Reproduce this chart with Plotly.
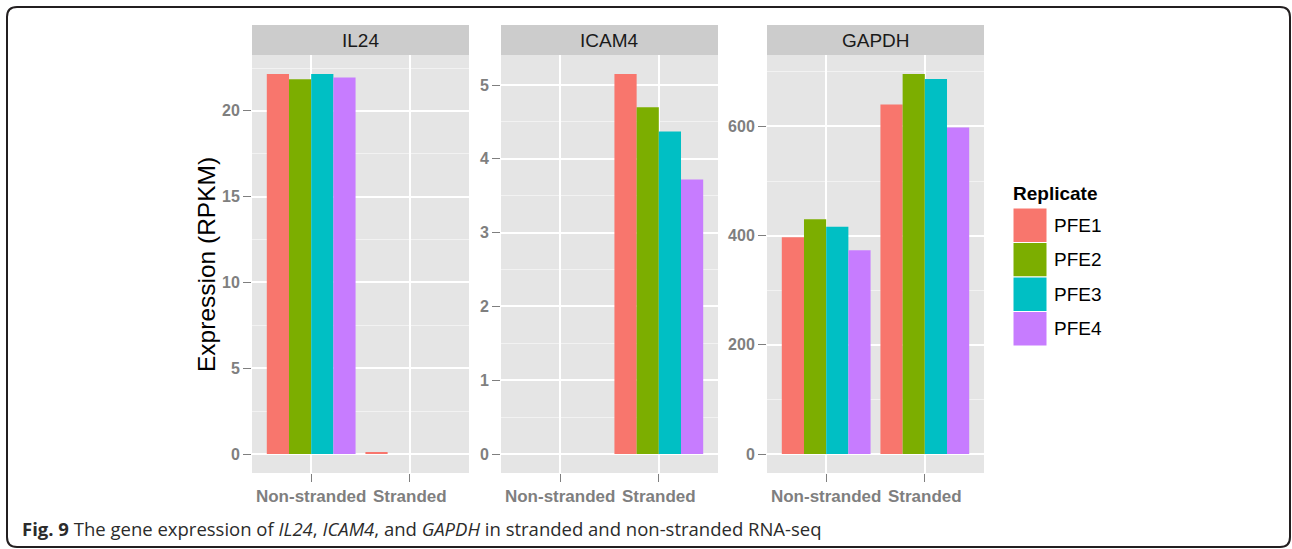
import plotly.graph_objects as go

# ---------------- data ----------------
genes = ["IL24", "ICAM4", "GAPDH"]
conditions = ["Non-stranded", "Stranded"]
replicates = ["PFE1", "PFE2", "PFE3", "PFE4"]
colors = ["#F8766D", "#7CAE00", "#00BFC4", "#C77CFF"]

# values[replicate] = [Non-stranded, Stranded]
il24 = {"PFE1": [22.15, 0.1], "PFE2": [21.85, 0.0], "PFE3": [22.15, 0.0], "PFE4": [21.95, 0.0]}
icam4 = {"PFE1": [0.0, 5.15], "PFE2": [0.0, 4.70], "PFE3": [0.0, 4.37], "PFE4": [0.0, 3.72]}
gapdh = {"PFE1": [397, 640], "PFE2": [430, 696], "PFE3": [416, 687], "PFE4": [373, 598]}
gene_values = [il24, icam4, gapdh]
y_dticks = [5, 1, 200]

y_title = "Expression (RPKM)"
legend_title = "Replicate"
caption = ("<b>Fig. 9</b> The gene expression of <i>IL24</i>, <i>ICAM4</i>, and "
           "<i>GAPDH</i> in stranded and non-stranded RNA-seq")

# ---------------- layout helpers (pixels -> paper) ----------------
W, H = 1292, 549
def px(x):
    return x / W
def py(y):
    return 1 - y / H

panel_x = [(252, 469), (501, 718), (767, 984)]
panel_top, panel_bottom = 55, 473
strip_top = 25

fig = go.Figure()
shapes = []
annotations = []

axis_font = dict(family="Liberation Sans, Arial, sans-serif", color="#7f7f7f", size=16, weight="bold")

for i, (gene, vals) in enumerate(zip(genes, gene_values)):
    n = "" if i == 0 else str(i + 1)
    for r, c in zip(replicates, colors):
        fig.add_trace(go.Bar(
            x=conditions, y=vals[r], name=r, marker=dict(color=c, line=dict(width=0)),
            xaxis="x" + n, yaxis="y" + n, showlegend=False, offsetgroup=r,
        ))
    allv = [v for r in replicates for v in vals[r]]
    lo, hi = min(0, min(allv)), max(allv)
    pad = 0.05 * (hi - lo)
    x0, x1 = panel_x[i]
    fig.layout["xaxis" + n] = dict(
        domain=[px(x0), px(x1)], anchor="y" + n, type="category",
        categoryorder="array", categoryarray=conditions, range=[-0.6, 1.6],
        showgrid=True, gridcolor="white", gridwidth=2, zeroline=False, showline=False,
        ticks="outside", ticklen=8, tickwidth=1, tickcolor="#7f7f7f",
        tickfont=dict(axis_font, size=17), fixedrange=True,
    )
    fig.layout["yaxis" + n] = dict(
        domain=[py(panel_bottom), py(panel_top)], anchor="x" + n,
        range=[lo - pad, hi + pad], dtick=y_dticks[i], tick0=0,
        showgrid=True, gridcolor="white", gridwidth=2, zeroline=False, showline=False,
        ticks="outside", ticklen=8, tickwidth=1, tickcolor="#7f7f7f",
        tickfont=axis_font,
        minor=dict(showgrid=True, gridcolor="#f2f2f2", gridwidth=1, dtick=y_dticks[i] / 2, tick0=0),
        fixedrange=True,
    )
    # strip
    shapes.append(dict(type="rect", xref="paper", yref="paper",
                       x0=px(x0), x1=px(x1), y0=py(panel_top), y1=py(strip_top),
                       fillcolor="#cccccc", line=dict(width=0), layer="below"))
    annotations.append(dict(text=gene, xref="paper", yref="paper",
                            x=px((x0 + x1) / 2), y=py((strip_top + panel_top) / 2),
                            xanchor="center", yanchor="middle", showarrow=False,
                            font=dict(family="Liberation Sans, Arial, sans-serif", size=19, color="#1a1a1a")))

# y axis title
annotations.append(dict(text=y_title, xref="paper", yref="paper", x=px(206), y=py(265),
                        xanchor="center", yanchor="middle", textangle=-90, showarrow=False,
                        font=dict(family="Liberation Sans, Arial, sans-serif", size=24.5, color="#000000")))

# legend (manual, ggplot style keys)
key_x0, key_x1, key_top, key_h = 1013, 1047, 208, 34.5
annotations.append(dict(text="<b>" + legend_title + "</b>", xref="paper", yref="paper",
                        x=px(1011), y=py(193), xanchor="left", yanchor="middle", showarrow=False,
                        font=dict(family="Liberation Sans, Arial, sans-serif", size=19, color="#000000")))
for k, (r, c) in enumerate(zip(replicates, colors)):
    t = key_top + k * key_h
    shapes.append(dict(type="rect", xref="paper", yref="paper",
                       x0=px(key_x0), x1=px(key_x1), y0=py(t + key_h), y1=py(t),
                       fillcolor=c, line=dict(color="white", width=1)))
    annotations.append(dict(text=r, xref="paper", yref="paper", x=px(1052), y=py(t + key_h / 2),
                            xanchor="left", yanchor="middle", showarrow=False,
                            font=dict(family="Liberation Sans, Arial, sans-serif", size=19, color="#000000")))

# caption
annotations.append(dict(text=caption, xref="paper", yref="paper", x=px(20), y=py(528),
                        xanchor="left", yanchor="middle", showarrow=False,
                        font=dict(family="Open Sans, sans-serif", size=18.5, color="#2b2b2b")))

# rounded border
bx0, by0, bx1, by1, rr = 7, 7, 1290, 547, 10
path = (f"M {px(bx0 + rr)},{py(by0)} L {px(bx1 - rr)},{py(by0)} Q {px(bx1)},{py(by0)} {px(bx1)},{py(by0 + rr)} "
        f"L {px(bx1)},{py(by1 - rr)} Q {px(bx1)},{py(by1)} {px(bx1 - rr)},{py(by1)} "
        f"L {px(bx0 + rr)},{py(by1)} Q {px(bx0)},{py(by1)} {px(bx0)},{py(by1 - rr)} "
        f"L {px(bx0)},{py(by0 + rr)} Q {px(bx0)},{py(by0)} {px(bx0 + rr)},{py(by0)} Z")
shapes.append(dict(type="path", xref="paper", yref="paper", path=path,
                   line=dict(color="#231f20", width=2), fillcolor="rgba(0,0,0,0)"))

fig.update_layout(
    width=W, height=H, margin=dict(l=0, r=0, t=0, b=0),
    paper_bgcolor="white", plot_bgcolor="#e5e5e5",
    barmode="group", bargap=0.1, bargroupgap=0,
    shapes=shapes, annotations=annotations, showlegend=False,
)

fig.write_html("out.html", post_script="document.body.style.margin='0';document.body.style.overflow='hidden';",
               config={"displayModeBar": False})
